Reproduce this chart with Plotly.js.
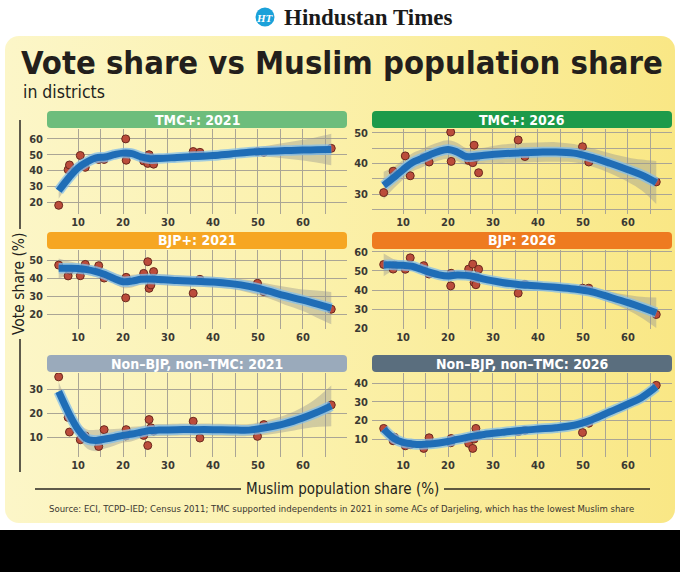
<!DOCTYPE html>
<html>
<head>
<meta charset="utf-8">
<script src="https://cdn.plot.ly/plotly-3.0.1.min.js"></script>
<style>
  body { margin: 0; background: #fff; }
  #wrap { position: relative; width: 680px; height: 572px; overflow: hidden; background: #fff; }
  #panel { position: absolute; left: 5px; top: 36px; width: 670px; height: 487px; border-radius: 14px;
           background: linear-gradient(90deg, #fcf6c8 0%, #fbf1ac 45%, #f9e785 100%); }
  #band { position: absolute; left: 0; top: 530px; width: 680px; height: 42px; background: #000; }
  #chart { position: absolute; left: 0; top: 0; width: 680px; height: 572px; }
</style>
</head>
<body>
<div id="wrap">
  <div id="panel"></div>
  <div id="band"></div>
  <div id="chart"></div>
</div>
<script>
// Muslim population share of each district (%), Census 2011
const muslimShare = [5.7, 7.8, 8.1, 10.5, 11.6, 14.6, 15.8, 20.6, 20.7, 24.6, 25.5, 25.8, 26.2, 26.8, 35.6, 37.1, 49.9, 51.3, 66.3];

// vote share per district (%)
const tmc2021   = [18, 40.5, 43.5, 49.5, 42, 47, 47, 60, 46.5, 46, 44.5, 50, 48, 44, 52, 51.5, 52, 51.5, 54];
const tmc2026   = [30.5, 37.5, 36, 42.5, 36, 42, 40.5, 50.3, 40.7, 41, 40.3, 46, 42, 37, 47.7, 42.3, 45.5, 40.5, 34];
const bjp2021   = [47.2, 41.2, 44.5, 41.3, 47.6, 46.9, 40, 29, 40.4, 42.6, 49.1, 34.3, 36.2, 43.6, 31.6, 39.3, 37.1, 32.5, 22.7];
const bjp2026   = [53.4, 51, 53, 50.9, 56.9, 52.8, 48.4, 42.2, 48.8, 51, 53.6, 44, 42.8, 50.9, 38.4, 43, 41, 41, 27.2];
const other2021 = [35.1, 18.2, 12.1, 8.9, 10.5, 6.1, 13.1, 10.5, 13.1, 10.7, 6.5, 17.3, 13.9, 12.5, 16.6, 9.6, 10.3, 15.2, 23.4];
const other2026 = [15.7, 9.1, 11, 6.4, 7, 5, 10.7, 8, 10.3, 7.7, 5, 10, 15.7, 12.1, 14, 14.7, 13.5, 18.5, 38.8];

// smoothed trend and its band, read at these x positions
const fitX = [5.7, 8, 10, 12, 14, 16, 18, 20, 22, 24, 26, 28, 32, 36, 40, 44, 48, 52, 56, 60, 63, 66.3];

const tmcFit2021 = [27.2, 35.5, 41.7, 45.5, 48, 48.5, 50, 51, 50.7, 48.6, 47.5, 47.6, 48.2, 48.8, 49.5, 50.5, 51.5, 52.2, 52.6, 52.9, 53.1, 53.3];
const tmcLo2021  = [22.2, 32, 38.7, 43, 45.5, 46, 47.5, 48, 47.7, 46.1, 45.5, 45.6, 46.2, 46.8, 47.5, 48.5, 49, 48.7, 47.6, 46.4, 45.1, 43.3];
const tmcHi2021  = [32.2, 39, 44.7, 48, 50.5, 51, 52.5, 54, 53.7, 51.1, 49.5, 49.6, 50.2, 50.8, 51.5, 52.5, 54, 55.7, 57.6, 59.4, 61.1, 63.3];

const tmcFit2026 = [32.8, 35.5, 38, 40.3, 41.6, 42.9, 44, 44.6, 43.8, 42.3, 42.4, 42.7, 43.2, 43.5, 43.7, 43.8, 43.4, 42, 40.1, 38, 36.3, 33.8];
const tmcLo2026  = [28.3, 32, 34.8, 37.3, 38.6, 39.9, 41, 41.6, 40.8, 39.5, 39.9, 40.2, 40.2, 40.3, 40.5, 40.6, 40.4, 39, 36.8, 34, 31.3, 26.8];
const tmcHi2026  = [37.3, 39, 41.2, 43.3, 44.6, 45.9, 47, 47.6, 46.8, 45.1, 44.9, 45.2, 46.2, 46.7, 46.9, 47, 46.4, 45, 43.4, 42, 41.3, 40.8];

const bjpFit2021 = [45.4, 45.4, 45.3, 44.7, 43.6, 42, 39.8, 38, 38.3, 39.3, 39.5, 39.2, 38.6, 38.2, 37.8, 36.9, 35.4, 33, 30.2, 27.7, 25.6, 23.3];
const bjpLo2021  = [39.9, 41.4, 42.3, 41.7, 40.6, 39, 36.8, 34.5, 34.8, 36.3, 36.5, 36.2, 35.6, 35.2, 34.8, 33.9, 31.9, 29, 25.2, 21.7, 18.1, 14.3];
const bjpHi2021  = [50.9, 49.4, 48.3, 47.7, 46.6, 45, 42.8, 41.5, 41.8, 42.3, 42.5, 42.2, 41.6, 41.2, 40.8, 39.9, 38.9, 37, 35.2, 33.7, 33.1, 32.3];

const bjpFit2026 = [53.2, 53.2, 53, 52.5, 50.9, 49.3, 48, 47.4, 47.9, 47.7, 47, 45.7, 44, 42.8, 42.2, 41.5, 40.6, 39.1, 36.3, 33.4, 31, 28.1];
const bjpLo2026  = [47.2, 50.2, 50.5, 50.3, 48.9, 47.3, 46, 45.4, 45.9, 45.7, 45, 43.7, 42, 40.8, 40.2, 39.5, 38.4, 36.6, 33.3, 29.4, 25.5, 20.1];
const bjpHi2026  = [59.2, 56.2, 55.5, 54.7, 52.9, 51.3, 50, 49.4, 49.9, 49.7, 49, 47.7, 46, 44.8, 44.2, 43.5, 42.8, 41.6, 39.3, 37.4, 36.5, 36.1];

const otherFit2021 = [29, 19.8, 13.2, 9.2, 8.6, 9.2, 9.9, 10.7, 11.3, 12, 12.7, 12.9, 13.1, 13.1, 13.1, 13, 12.9, 14, 15.6, 18, 20.2, 23];
const otherLo2021  = [25, 16.8, 10.2, 5.2, 4.1, 5.2, 6.4, 7.7, 8.3, 9.5, 10.2, 10.4, 10.6, 10.6, 10.6, 10.5, 10.4, 11, 12.1, 13.5, 14.2, 14.5];
const otherHi2021  = [33, 22.8, 16.2, 13.2, 13.1, 13.2, 13.4, 13.7, 14.3, 14.5, 15.2, 15.4, 15.6, 15.6, 15.6, 15.5, 15.4, 17, 19.1, 22.5, 26.2, 31.5];

const otherFit2026 = [15.3, 10.3, 8.2, 7.4, 7.1, 7.4, 7.9, 8.7, 9.8, 10.8, 11.7, 12.5, 13.6, 14.6, 15.4, 16.1, 17.4, 20.4, 24.6, 28.8, 32.2, 38];
const otherLo2026  = [12.8, 8.3, 6.4, 5.6, 5.3, 5.6, 6.1, 6.9, 8, 9, 9.9, 10.7, 11.8, 12.8, 13.6, 14.3, 15.6, 18.6, 22.6, 26.8, 30, 35.2];
const otherHi2026  = [17.8, 12.3, 10, 9.2, 8.9, 9.2, 9.7, 10.5, 11.6, 12.6, 13.5, 14.3, 15.4, 16.4, 17.2, 17.9, 19.2, 22.2, 26.6, 30.8, 34.4, 40.8];

const xTicks = [10, 20, 30, 40, 50, 60];
const xMinor = [15, 25, 35, 45, 55, 65];

const panels = [
  { title: 'TMC+: 2021', head: '#6dbd7c', pts: tmc2021, fit: tmcFit2021, lo: tmcLo2021, hi: tmcHi2021, yr: [12.5, 66.25], yt: [20, 30, 40, 50, 60] },
  { title: 'TMC+: 2026', head: '#1d9a4a', pts: tmc2026, fit: tmcFit2026, lo: tmcLo2026, hi: tmcHi2026, yr: [23.5, 51.3], yt: [30, 40, 50], ym: [25, 35, 45] },
  { title: 'BJP+: 2021', head: '#f6a622', pts: bjp2021, fit: bjpFit2021, lo: bjpLo2021, hi: bjpHi2021, yr: [11.7, 55.6], yt: [20, 30, 40, 50] },
  { title: 'BJP: 2026', head: '#ee7b20', pts: bjp2026, fit: bjpFit2026, lo: bjpLo2026, hi: bjpHi2026, yr: [19.6, 61], yt: [20, 30, 40, 50, 60] },
  { title: 'Non\u2013BJP, non\u2013TMC: 2021', head: '#9aaabb', pts: other2021, fit: otherFit2021, lo: otherLo2021, hi: otherHi2021, yr: [1.7, 36.7], yt: [10, 20, 30] },
  { title: 'Non\u2013BJP, non\u2013TMC: 2026', head: '#5a6e7e', pts: other2026, fit: otherFit2026, lo: otherLo2026, hi: otherHi2026, yr: [0.4, 45.4], yt: [10, 20, 30, 40] }
];

const W = 680, H = 572;
const px = v => v / W;
const py = v => 1 - v / H;
const cols = [[47, 347], [372, 672]];
const rows = [[129, 214], [250, 329], [373, 457]];
const heads = [[111, 128], [232, 249], [355, 372]];

const COND = '"DejaVu Sans Condensed", "Liberation Sans Narrow", "DejaVu Sans", sans-serif';
const gridCol = '#aaa595';

function rr(x0, y0, x1, y1, r) {
  const rx = r / W, ry = r / H;
  const a = px(x0), b = px(x1), t = py(y0), u = py(y1);
  return `M${a + rx},${t} L${b - rx},${t} Q${b},${t} ${b},${t - ry} L${b},${u + ry} Q${b},${u} ${b - rx},${u}` +
         ` L${a + rx},${u} Q${a},${u} ${a},${u + ry} L${a},${t - ry} Q${a},${t} ${a + rx},${t} Z`;
}

const data = [];
const layout = {
  width: W, height: H,
  margin: { l: 0, r: 0, t: 0, b: 0 },
  paper_bgcolor: 'rgba(0,0,0,0)',
  plot_bgcolor: 'rgba(0,0,0,0)',
  showlegend: false,
  shapes: [],
  annotations: []
};

panels.forEach((p, i) => {
  const n = i + 1;
  const xa = 'x' + (n === 1 ? '' : n), ya = 'y' + (n === 1 ? '' : n);
  const c = cols[i % 2], r = rows[Math.floor(i / 2)], h = heads[Math.floor(i / 2)];

  data.push({ x: fitX, y: p.lo, xaxis: xa, yaxis: ya, type: 'scatter', mode: 'lines',
              line: { width: 0, shape: 'spline' }, hoverinfo: 'skip' });
  data.push({ x: fitX, y: p.hi, xaxis: xa, yaxis: ya, type: 'scatter', mode: 'lines',
              line: { width: 0, shape: 'spline' }, fill: 'tonexty', fillcolor: 'rgba(150,150,145,0.42)', hoverinfo: 'skip' });
  data.push({ x: muslimShare, y: p.pts, xaxis: xa, yaxis: ya, type: 'scatter', mode: 'markers',
              marker: { size: 8, color: '#bb4c3b', line: { color: '#6b281d', width: 1 } } });
  data.push({ x: fitX, y: p.fit, xaxis: xa, yaxis: ya, type: 'scatter', mode: 'lines',
              line: { width: 10.5, color: 'rgba(130,190,235,0.75)', shape: 'spline' }, hoverinfo: 'skip' });
  data.push({ x: fitX, y: p.fit, xaxis: xa, yaxis: ya, type: 'scatter', mode: 'lines',
              line: { width: 7, color: '#1f6db6', shape: 'spline' } });

  layout['xaxis' + (n === 1 ? '' : n)] = {
    domain: [px(c[0]), px(c[1])], range: [3.1, 69.8], anchor: ya,
    tickvals: xTicks, showgrid: true, gridcolor: gridCol, gridwidth: 1, zeroline: false, showline: false,
    minor: { tickvals: xMinor, showgrid: true, gridcolor: gridCol, gridwidth: 1 },
    tickfont: { family: COND, size: 11, color: '#3b3933', weight: 'bold' }, fixedrange: true
  };
  const yax = {
    domain: [py(r[1]), py(r[0])], range: p.yr, anchor: xa,
    tickvals: p.yt, showgrid: true, gridcolor: gridCol, gridwidth: 1, zeroline: false, showline: false,
    ticklabelstandoff: 3,
    tickfont: { family: COND, size: 11, color: '#3b3933', weight: 'bold' }, fixedrange: true
  };
  if (p.ym) yax.minor = { tickvals: p.ym, showgrid: true, gridcolor: gridCol, gridwidth: 1 };
  layout['yaxis' + (n === 1 ? '' : n)] = yax;

  // coloured header bar with the panel title
  layout.shapes.push({ type: 'path', xref: 'paper', yref: 'paper', path: rr(c[0], h[0], c[1], h[1], 4),
                       fillcolor: p.head, line: { width: 0 }, layer: 'below' });
  layout.annotations.push({ xref: 'paper', yref: 'paper', x: px((c[0] + c[1]) / 2), y: py((h[0] + h[1]) / 2),
                            text: '<b>' + p.title + '</b>', showarrow: false, xanchor: 'center', yanchor: 'middle',
                            font: { family: COND, size: 14, color: '#ffffff' } });
});

// masthead
layout.shapes.push({ type: 'circle', xref: 'paper', yref: 'paper',
                     x0: px(255.5), x1: px(274.5), y0: py(26.5), y1: py(7.5), fillcolor: '#1ba1d9', line: { width: 0 } });
layout.annotations.push(
  { xref: 'paper', yref: 'paper', x: px(265), y: py(17.5), text: '<b><i>HT</i></b>', showarrow: false,
    xanchor: 'center', yanchor: 'middle', font: { family: '"Liberation Serif", serif', size: 11, color: '#ffffff' } },
  { xref: 'paper', yref: 'paper', x: px(282), y: py(18), text: '<b>Hindustan Times</b>', showarrow: false,
    xanchor: 'left', yanchor: 'middle', font: { family: '"Liberation Serif", serif', size: 23, color: '#1a1a1a' } },
  { xref: 'paper', yref: 'paper', x: px(19), y: py(63), text: '<b>Vote share vs Muslim population share</b>', showarrow: false,
    xanchor: 'left', yanchor: 'middle', font: { family: COND, size: 32.5, color: '#231f1c' } },
  { xref: 'paper', yref: 'paper', x: px(21), y: py(92), text: 'in districts', showarrow: false,
    xanchor: 'left', yanchor: 'middle', font: { family: COND, size: 17.5, color: '#231f1c' } },
  { xref: 'paper', yref: 'paper', x: px(19), y: py(284), text: 'Vote share (%)', showarrow: false, textangle: -90,
    xanchor: 'center', yanchor: 'middle', font: { family: COND, size: 15.5, color: '#231f1c' } },
  { xref: 'paper', yref: 'paper', x: px(342), y: py(489), text: 'Muslim population share (%)', showarrow: false,
    xanchor: 'center', yanchor: 'middle', font: { family: COND, size: 15, color: '#231f1c' } },
  { xref: 'paper', yref: 'paper', x: px(341), y: py(508),
    text: 'Source: ECI, TCPD\u2013IED; Census 2011; TMC supported independents in 2021 in some ACs of Darjeling, which has the lowest Muslim share',
    showarrow: false, xanchor: 'center', yanchor: 'middle', font: { family: COND, size: 9.5, color: '#3a3630' } }
);

// rules beside the axis titles
[[120, 229], [339, 472]].forEach(s => layout.shapes.push({ type: 'line', xref: 'paper', yref: 'paper',
  x0: px(20), x1: px(20), y0: py(s[0]), y1: py(s[1]), line: { color: '#2a2622', width: 1.5 } }));
[[35, 241], [444, 650]].forEach(s => layout.shapes.push({ type: 'line', xref: 'paper', yref: 'paper',
  x0: px(s[0]), x1: px(s[1]), y0: py(489), y1: py(489), line: { color: '#2a2622', width: 1.5 } }));

Plotly.newPlot('chart', data, layout, { staticPlot: true });
</script>
</body>
</html>
